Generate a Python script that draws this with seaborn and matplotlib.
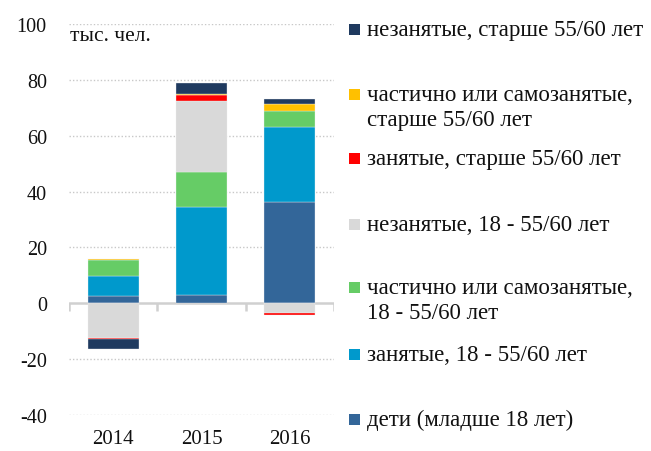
import matplotlib
matplotlib.use("Agg")
import matplotlib.pyplot as plt
from matplotlib import font_manager as fm
import seaborn as sns
import numpy as np
from matplotlib.patches import Rectangle

# ---- data (тыс. чел.) ----
years = ["2014", "2015", "2016"]
deti = [2.5, 3.0, 36.3]                 # дети (младше 18 лет)
zan_18 = [7.2, 31.4, 26.7]              # занятые, 18 - 55/60 лет
chast_18 = [5.9, 12.7, 6.0]             # частично или самозанятые, 18 - 55/60 лет
nezan_18 = [-12.3, 25.3, -3.4]          # незанятые, 18 - 55/60 лет
zan_55 = [-0.5, 2.0, -0.7]              # занятые, старше 55/60 лет
chast_55 = [0.3, 0.6, 2.3]              # частично или самозанятые, старше 55/60 лет
nezan_55 = [-3.7, 3.9, 1.9]             # незанятые, старше 55/60 лет

series = [
    (deti, "#336699", "дети (младше 18 лет)"),
    (zan_18, "#0099CC", "занятые, 18 - 55/60 лет"),
    (chast_18, "#66CC66", "частично или самозанятые,\n18 - 55/60 лет"),
    (nezan_18, "#D9D9D9", "незанятые, 18 - 55/60 лет"),
    (zan_55, "#FF0000", "занятые, старше 55/60 лет"),
    (chast_55, "#FFC000", "частично или самозанятые,\nстарше 55/60 лет"),
    (nezan_55, "#1F3A5F", "незанятые, старше 55/60 лет"),
]
yticks = [-40, -20, 0, 20, 40, 60, 80, 100]
unit_label = "тыс. чел."

sns.set_style("white")
serif_entries = [f for f in fm.fontManager.ttflist
                 if f.name == "Liberation Serif" and f.style == "normal" and f.weight in (400, "normal")]
if serif_entries:
    FP = lambda size: fm.FontProperties(fname=serif_entries[0].fname, size=size)
else:
    FP = lambda size: fm.FontProperties(family=["Liberation Serif", "DejaVu Serif"], size=size)
plt.rcParams["font.family"] = ["Liberation Serif", "DejaVu Serif"]

W, H = 651, 452
fig = plt.figure(figsize=(W / 100, H / 100), dpi=100)
ax = fig.add_axes([69 / W, 1 - 416 / H, (334 - 69) / W, (416 - 25) / H])

pos_base = np.zeros(len(years))
neg_base = np.zeros(len(years))
for vals, col, lab in series:
    v = np.array(vals, dtype=float)
    bottom = np.where(v >= 0, pos_base, neg_base)
    sns.barplot(x=years, y=v, bottom=bottom, color=col, width=0.58,
                errorbar=None, ax=ax, edgecolor="#f0f0f0", linewidth=0.25,
                saturation=1, zorder=3)
    pos_base = pos_base + np.where(v >= 0, v, 0)
    neg_base = neg_base + np.where(v < 0, v, 0)

ax.set_xlim(-0.5, len(years) - 0.5)
ax.set_ylim(-40, 100)
ax.set_yticks(yticks)
ax.set_yticklabels([str(t) for t in yticks])
ax.set_xlabel("")
ax.set_ylabel("")
for s in ax.spines.values():
    s.set_visible(False)

for t in yticks:
    if t != 0:
        ax.axhline(t, color="#c8c8c8", linestyle=(0, (1, 1.5)), linewidth=1.0, zorder=1)
ax.axhline(0, color="#d0d0d0", linewidth=1.8, zorder=2)
ax.vlines(np.arange(-0.5, len(years)), -2.6, 0, color="#d0d0d0", linewidth=1.8, zorder=2)

ax.tick_params(axis="both", length=0, labelcolor="#111111")
ax.tick_params(axis="y", pad=16)
ax.tick_params(axis="x", pad=10)
for lbl in ax.get_yticklabels():
    lbl.set_fontproperties(FP(14.5))
for lbl in ax.get_xticklabels():
    lbl.set_fontproperties(FP(15))

ax.text(0.004, 0.958, unit_label, transform=ax.transAxes, fontproperties=FP(15.5),
        ha="left", va="baseline", color="#111111")

leg_y = [30, 95, 159, 225, 288, 355, 420]
ordered = list(reversed(series))
for (vals, col, lab), yc in zip(ordered, leg_y):
    sz = 11
    fig.patches.append(Rectangle((349 / W, 1 - (yc + sz / 2) / H), sz / W, sz / H,
                                 transform=fig.transFigure, facecolor=col,
                                 edgecolor="none"))
    fig.text(367 / W, 1 - (yc - 10) / H, lab, fontproperties=FP(16.5), ha="left", va="top",
             color="#111111", linespacing=1.25)

fig.savefig("out.png", dpi=100)
